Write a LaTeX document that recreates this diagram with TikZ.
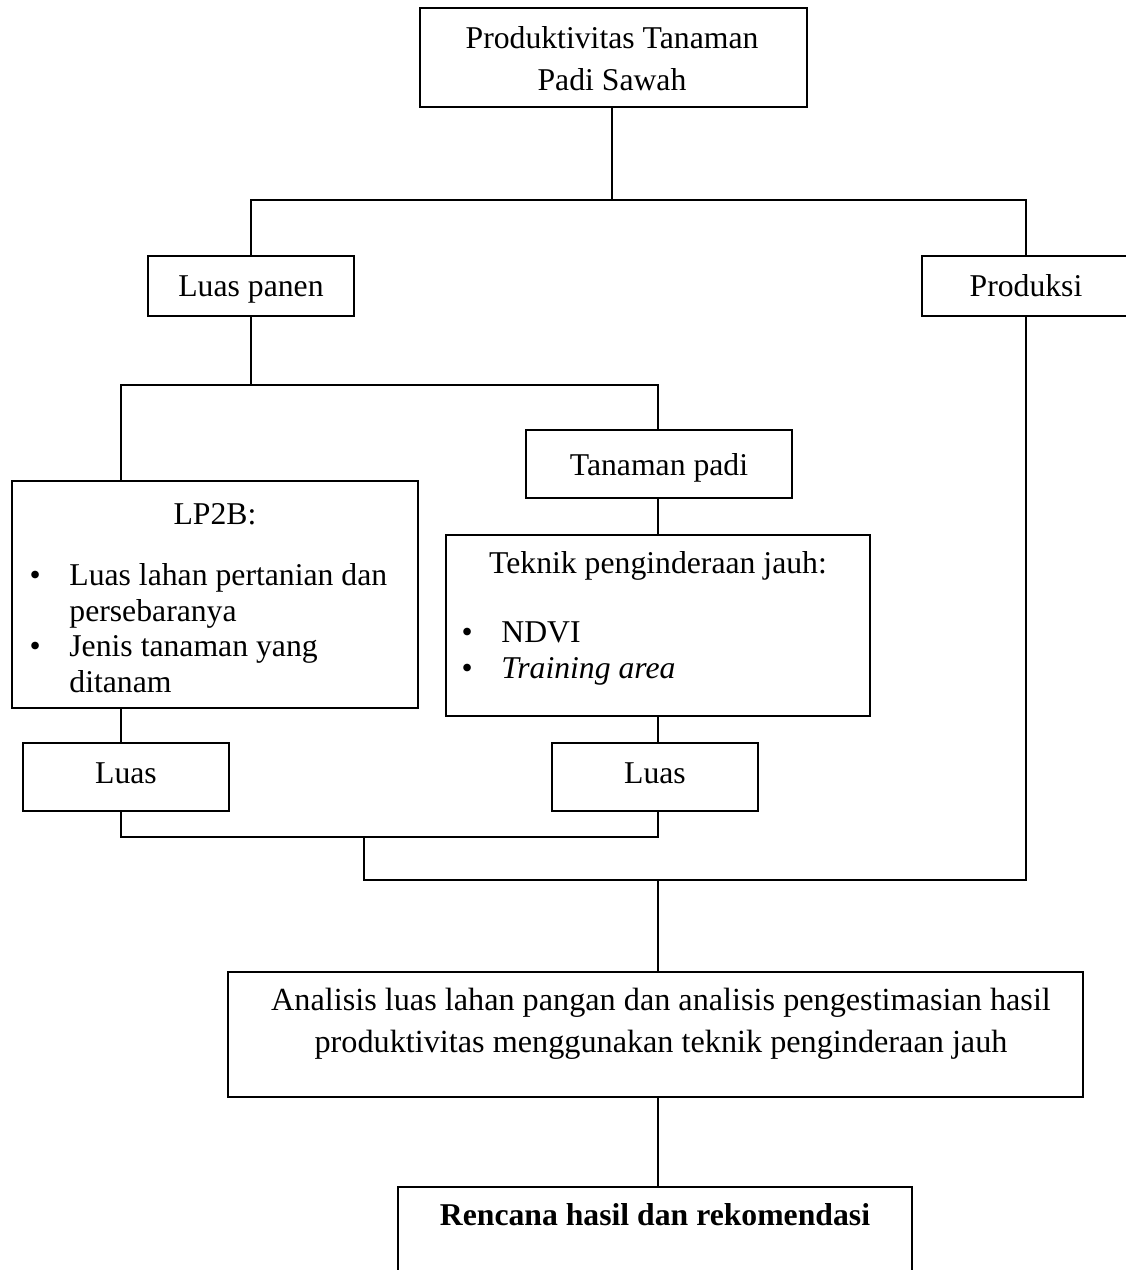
\documentclass[tikz,border=0pt]{standalone}
\usepackage{fontspec}
\setmainfont{Liberation Serif}
\usetikzlibrary{positioning,fit}

\newcommand{\bul}{\makebox[15.1pt][l]{\textbullet}}
\newcommand{\bsk}{\hspace*{15.1pt}}

\tikzset{
  box/.style={draw, line width=0.5pt, inner sep=0pt},
  lbl/.style={anchor=base, inner sep=0pt, align=center},
  lst/.style={anchor=base west, inner sep=0pt, align=left},
  link/.style={line width=0.75pt}
}

\begin{document}
\begin{tikzpicture}[x=0.3785pt, y=-0.3785pt, font=\fontsize{12pt}{15.9pt}\selectfont]
\useasboundingbox (0,0) rectangle (1125,1270);
%
    % boxes
    \node[box, fit={(420,8) (807,107)}] (top) {};
    \node[box, fit={(148,256) (354,316)}] (panen) {};
    \node[box, fit={(922,256) (1130,316)}] (prod) {};
    \node[box, fit={(12,481) (418,708)}] (lp) {};
    \node[box, fit={(526,430) (792,498)}] (padi) {};
    \node[box, fit={(446,535) (870,716)}] (tek) {};
    \node[box, fit={(23,743) (229,811)}] (luasA) {};
    \node[box, fit={(552,743) (758,811)}] (luasB) {};
    \node[box, fit={(228,972) (1083,1097)}] (ana) {};
    \node[box, fit={(398,1187) (912,1285)}] (rek) {};
%
    % texts (multi-line ones sit on their last baseline)
    \node[lbl] (topT) at (612,91) {Produktivitas Tanaman\\Padi Sawah};
    \node[lbl] (panenT) at (251,297) {Luas panen};
    \node[lbl] (prodT) at (1026,297) {Produksi};
    \node[lbl] (lpT) at (215,524) {LP2B:};
    \node[lst, font=\fontsize{12pt}{13.4pt}\selectfont] (lpL) at (29,692)
      {\bul Luas lahan pertanian dan\\ \bsk persebaranya\\ \bul Jenis tanaman yang\\ \bsk ditanam};
    \node[lbl] (padiT) at (659,475) {Tanaman padi};
    \node[lbl] (tekT) at (658,573) {Teknik penginderaan jauh:};
    \node[lst, font=\fontsize{12pt}{13.6pt}\selectfont] (tekL) at (461,678)
      {\bul NDVI\\ \bul \textit{Training area}};
    \node[lbl] (luasAT) at (126,783) {Luas};
    \node[lbl] (luasBT) at (655,783) {Luas};
    \node[lbl, font=\fontsize{12.2pt}{15.9pt}\selectfont] (anaT) at (661,1052) {Analisis luas lahan pangan dan analisis pengestimasian hasil\\produktivitas menggunakan teknik penginderaan jauh};
    \node[lbl, font=\fontsize{12pt}{15.9pt}\selectfont\bfseries] (rekT) at (655,1225) {Rencana hasil dan rekomendasi};
%
    % junctions
    \coordinate (jtop) at (612,200);
    \coordinate (jleft) at (121,385);
    \coordinate (jmid) at (658,385);
    \coordinate (jlow) at (364,837);
    \coordinate (jsum) at (364,880);
    \coordinate (jana) at (658,880);
%
    \draw[link] (top.south -| jtop) -- (jtop);
    \draw[link] (panen.north) |- (jtop) -| (prod.north);
    \draw[link] (panen.south) -- (panen.south |- jmid);
    \draw[link] (lp.north -| jleft) |- (jmid) -- (padi.north -| jmid);
    \draw[link] (padi.south -| jmid) -- (tek.north -| jmid);
    \draw[link] (tek.south -| jmid) -- (luasB.north -| jmid);
    \draw[link] (lp.south -| jleft) -- (luasA.north -| jleft);
    \draw[link] (luasA.south -| jleft) |- (jlow) -| (luasB.south -| jmid);
    \draw[link] (jlow) -- (jsum) -| (prod.south);
    \draw[link] (jana) -- (ana.north -| jana);
    \draw[link] (ana.south -| jana) -- (rek.north -| jana);
  \end{tikzpicture}
\end{document}
